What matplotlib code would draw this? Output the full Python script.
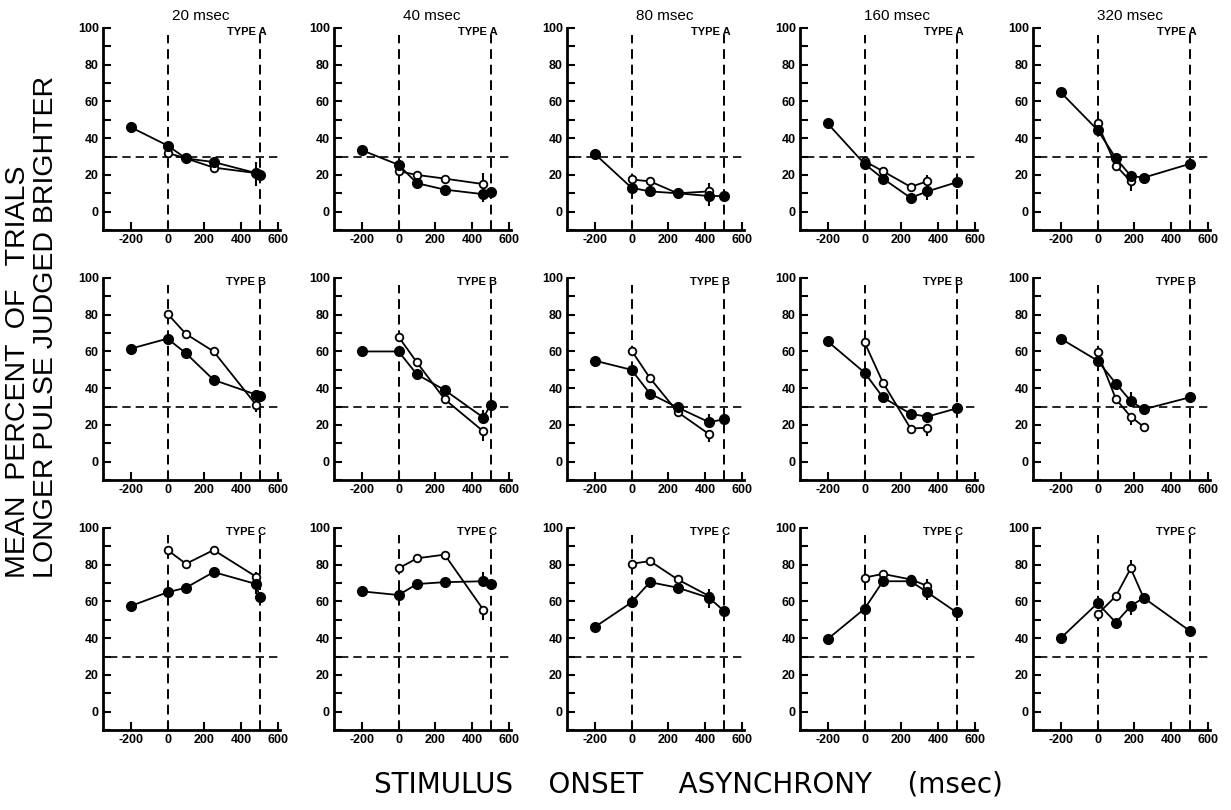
import numpy as np
from matplotlib import pyplot as plt

durations = ["20 msec", "40 msec", "80 msec", "160 msec", "320 msec"]
types = ["TYPE A", "TYPE B", "TYPE C"]

# SOA positions of the filled points, one list per duration
soa_filled = [
    [-200, 0, 100, 250, 480, 500],
    [-200, 0, 100, 250, 460, 500],
    [-200, 0, 100, 250, 420, 500],
    [-200, 0, 100, 250, 340, 500],
    [-200, 0, 100, 180, 250, 500],
]
filled_A = [
    [46, 36, 29, 27, 21, 20],
    [33.5, 25.5, 15.5, 12, 9.5, 10.5],
    [31.5, 13, 11, 10, 8.5, 8.5],
    [48, 26, 18, 7.5, 11, 16],
    [65, 44.5, 29, 19.5, 18.5, 26],
]
filled_B = [
    [61.5, 67, 59, 44.5, 36.5, 36],
    [60, 60, 47.5, 39, 24, 31],
    [55, 50, 37, 29.5, 21.5, 23],
    [65.5, 48.5, 35, 26, 24.5, 29],
    [67, 55, 42.5, 33, 28.5, 35],
]
filled_C = [
    [57.5, 65, 67.5, 76, 69.5, 62.5],
    [65.5, 63.5, 69.5, 70.5, 71, 69.5],
    [46, 59.5, 70.5, 67.5, 62, 55],
    [39.5, 56, 71, 71, 65, 54],
    [40, 59, 48.5, 57.5, 62, 44],
]

open_x_A = [[0, 100, 250, 480], [0, 100, 250, 460], [0, 100, 250, 420],
            [0, 100, 250, 340], [0, 100, 180]]
open_x_BC = [[0, 100, 250, 480], [0, 100, 250, 460], [0, 100, 250, 420],
             [0, 100, 250, 340], [0, 100, 180, 250]]
open_A = [
    [32, 29, 24, 21],
    [22, 20, 18, 15],
    [17.5, 16.5, 10, 11],
    [27.5, 22, 13.5, 16.5],
    [48, 25, 16.5],
]
open_B = [
    [80.5, 69.5, 60, 31],
    [68, 54, 34, 16.5],
    [60.5, 45.5, 27, 15],
    [65, 43, 18, 18.5],
    [59.5, 34, 24.5, 19],
]
open_C = [
    [88, 80.5, 88, 73.5],
    [78, 83.5, 85.5, 55.5],
    [80.5, 82, 72, 63],
    [73, 75, 72, 68.5],
    [53, 63, 78, 62],
]

# error bars: (soa, low, high)
err_A = [
    [(480, 14, 27)],
    [(460, 5.5, 9.5), (460, 15, 21)],
    [(420, 3, 15.5)],
    [(340, 6.5, 11), (340, 16.5, 20)],
    [(180, 11, 19.5), (500, 23, 29)],
]
err_B = [
    [(480, 27, 39)],
    [(460, 11.5, 16.5), (460, 24, 28)],
    [(420, 21.5, 26), (420, 10.5, 15)],
    [(340, 14, 18.5), (340, 24.5, 27)],
    [(180, 33, 38), (180, 20, 24.5)],
]
err_C = [
    [(480, 64, 76)],
    [(460, 71, 76), (460, 50, 55.5)],
    [(420, 56.5, 67)],
    [(340, 61, 72.5)],
    [(180, 78, 82.5), (180, 52.5, 57.5)],
]

filled_all = [filled_A, filled_B, filled_C]
open_all = [open_A, open_B, open_C]
open_x_all = [open_x_A, open_x_BC, open_x_BC]
err_all = [err_A, err_B, err_C]

plt.rcParams['font.family'] = ['Liberation Sans', 'DejaVu Sans']
plt.rcParams['axes.unicode_minus'] = False

W, H = 1231, 810
fig = plt.figure(figsize=(W / 100, H / 100), dpi=100)

lefts = [103, 334, 567, 800, 1033]
tops = [28, 278, 528]
aw, ah = 177, 202
dash = (0, (5, 3))

for r in range(3):
    for c in range(5):
        ax = fig.add_axes([lefts[c] / W, 1 - (tops[r] + ah) / H, aw / W, ah / H])
        ax.set_xlim(-350, 610)
        ax.set_ylim(-10, 100)
        for s in ["top", "right"]:
            ax.spines[s].set_visible(False)
        for s in ["left", "bottom"]:
            ax.spines[s].set_linewidth(2)
        ax.set_xticks([-200, 0, 200, 400, 600])
        ax.set_yticks([0, 20, 40, 60, 80, 100])
        ax.set_yticks(np.arange(-10, 100, 10), minor=True)
        ax.tick_params(direction="in", length=6, width=1.5, labelsize=9, pad=3)
        ax.tick_params(which="minor", direction="in", length=6, width=1.5)
        for lab in ax.get_xticklabels() + ax.get_yticklabels():
            lab.set_fontweight("bold")
        ax.vlines([0, 500], -10, 96, colors="black", linestyles=dash, lw=1.4)
        ax.hlines(30, -320, 600, colors="black", linestyles=dash, lw=1.2, clip_on=False)
        ax.text(535, 98, types[r], ha="right", va="center", fontsize=8, fontweight="bold")
        if r == 0:
            ax.set_title(durations[c], fontsize=11, pad=6, x=0.55)
        for x, lo, hi in err_all[r][c]:
            ax.vlines(x, lo, hi, colors="black", lw=1.5)
        ax.plot(open_x_all[r][c], open_all[r][c], "-o", color="black", lw=1.3,
                ms=5.5, mfc="white", mec="black", mew=1.3, zorder=3)
        ax.plot(soa_filled[c], filled_all[r][c], "-o", color="black", lw=1.3,
                ms=7, mfc="black", mec="black", zorder=4)

fig.text(18 / W, 1 - 578 / H, "MEAN  PERCENT  OF   TRIALS", rotation=90,
         ha="center", va="bottom", fontsize=20.5)
fig.text(46 / W, 1 - 578 / H, "LONGER PULSE JUDGED BRIGHTER", rotation=90,
         ha="center", va="bottom", fontsize=20.5)
fig.text(688 / W, 1 - 785 / H, "STIMULUS    ONSET    ASYNCHRONY    (msec)",
         ha="center", va="center", fontsize=20, family="DejaVu Sans")

fig.savefig("out.png", dpi=100)
